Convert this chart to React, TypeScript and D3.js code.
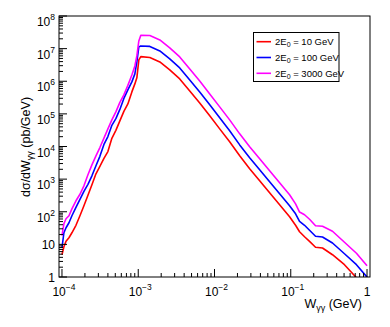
import React from "react";
import * as d3 from "d3";

// W_gamma-gamma grid (GeV)
const W = [
  1.0e-4, 1.06e-4, 1.13e-4, 1.235e-4, 1.35e-4, 1.525e-4, 1.72e-4, 1.94e-4, 2.19e-4, 2.47e-4,
  2.79e-4, 3.14e-4, 3.55e-4, 4.0e-4, 4.51e-4, 5.09e-4, 5.74e-4, 6.48e-4, 7.31e-4, 8.25e-4,
  9.03e-4, 9.59e-4, 1.018e-3, 1.081e-3, 1.42e-3, 1.92e-3, 2.59e-3, 3.5e-3, 4.74e-3, 6.4e-3,
  8.66e-3, 1.17e-2, 1.58e-2, 2.14e-2, 2.89e-2, 3.91e-2, 5.28e-2, 7.14e-2, 9.65e-2, 0.1156,
  0.1304, 0.1516, 0.1762, 0.2112, 0.2608, 0.3525, 0.506, 0.7265, 1.0,
];

// dσ/dW (pb/GeV) for 2E0 = 10 GeV
const sigma10 = [
  4.82, 8.47, 12.5, 16.0, 22.7, 38.5, 75.3, 152, 320, 670,
  1455, 2470, 4340, 7010, 1.78e4, 3.13e4, 6.11e4, 1.19e5, 2.02e5, 4.72e5,
  8.3e5, 1.27e6, 4.5e6, 5.68e6, 5.37e6, 3.91e6, 2.22e6, 1.18e6, 5.06e5, 2.17e5,
  8.69e4, 3.47e4, 1.39e4, 5175, 2070, 889, 381, 164, 70.2, 38.5,
  24.4, 17.1, 12.3, 8.17, 7.73, 4.82, 2.38, 0.95, 0.41,
];

// 2E0 = 100 GeV
const sigma100 = [
  7.89, 22.7, 32.3, 46.0, 75.3, 137, 241, 424, 694, 1265,
  2560, 5000, 1.16e4, 2.02e4, 4.45e4, 7.13e4, 1.37e5, 2.98e5, 5.43e5, 9.55e5,
  1.68e6, 3.91e6, 1.13e7, 1.21e7, 1.17e7, 8.49e6, 4.83e6, 2.56e6, 1.1e6, 4.72e5,
  1.89e5, 7.55e4, 3.02e4, 1.12e4, 4500, 1930, 828, 355, 152, 86.7,
  50.4, 38.5, 27.1, 17.8, 16.8, 11.0, 5.17, 2.38, 0.99,
];

// 2E0 = 3000 GeV
const sigma3000 = [
  18.4, 42.9, 61.0, 75.3, 123, 217, 343, 624, 1355, 2740,
  5175, 9290, 1.8e4, 3.47e4, 6.55e4, 1.15e5, 2.25e5, 3.82e5, 7.46e5, 1.56e6,
  2.95e6, 5.97e6, 1.72e7, 2.57e7, 2.53e7, 1.85e7, 1.05e7, 5.56e6, 2.39e6, 1.02e6,
  4.09e5, 1.64e5, 6.55e4, 2.44e4, 9770, 4190, 1800, 771, 331, 175,
  97.7, 80.9, 58.9, 37.2, 35.9, 25.3, 11.6, 5.35, 2.22,
];

const seriesNames = ["10", "100", "3000"];
const seriesColors = ["#ff0000", "#0000ff", "#ff00ff"];
const seriesValues = [sigma10, sigma100, sigma3000];

const xMajor = [1e-4, 1e-3, 1e-2, 1e-1, 1];
const xMajorExp = ["-4", "-3", "-2", "-1", ""];
const yMajor = [1, 10, 1e2, 1e3, 1e4, 1e5, 1e6, 1e7, 1e8];
const yMajorExp = ["", "", "2", "3", "4", "5", "6", "7", "8"];

const FONT = "'Liberation Sans', Arial, Helvetica, sans-serif";

export default function App() {
  const L = 59, R = 370, T = 16, B = 277;
  const x = d3.scaleLog().domain([9.14e-5, 1.094]).range([L, R]);
  const y = d3.scaleLog().domain([1, 1e8]).range([B, T]);

  const xMinor = x.ticks().filter((v) => !xMajor.some((m) => Math.abs(m - v) / m < 1e-6));
  const yMinor = y.ticks().filter((v) => !yMajor.some((m) => Math.abs(m - v) / m < 1e-6));

  const line = d3
    .line<number>()
    .x((_, i) => x(W[i]))
    .y((d) => y(Math.max(d, 1e-3)));

  return (
    <svg
      width={390}
      height={327}
      style={{ position: "fixed", left: 0, top: 0, background: "#fff" }}
      fontFamily={FONT}
    >
      <defs>
        <clipPath id="frame">
          <rect x={L} y={T} width={R - L} height={B - T} />
        </clipPath>
      </defs>
      <rect x={0} y={0} width={390} height={327} fill="#fff" />

      {/* curves */}
      <g clipPath="url(#frame)">
        {seriesValues.map((vals, k) => (
          <path key={k} d={line(vals) || ""} fill="none" stroke={seriesColors[k]} strokeWidth={1.6} strokeLinejoin="round" />
        ))}
      </g>

      {/* frame */}
      <rect x={L} y={T} width={R - L} height={B - T} fill="none" stroke="#000" strokeWidth={1} />

      {/* x ticks */}
      {xMajor.map((v, i) => (
        <line key={"xM" + i} x1={x(v)} x2={x(v)} y1={B} y2={B - 8} stroke="#000" strokeWidth={1} />
      ))}
      {xMinor.map((v, i) => (
        <line key={"xm" + i} x1={x(v)} x2={x(v)} y1={B} y2={B - 4} stroke="#000" strokeWidth={1} />
      ))}
      {/* y ticks */}
      {yMajor.map((v, i) => (
        <line key={"yM" + i} x1={L} x2={L + 8} y1={y(v)} y2={y(v)} stroke="#000" strokeWidth={1} />
      ))}
      {yMinor.map((v, i) => (
        <line key={"ym" + i} x1={L} x2={L + 4} y1={y(v)} y2={y(v)} stroke="#000" strokeWidth={1} />
      ))}

      {/* x tick labels */}
      {xMajor.map((v, i) => (
        <text key={"xl" + i} x={x(v) + (xMajorExp[i] ? 2 : 0)} y={296} fontSize={12} textAnchor="middle" fill="#000">
          {xMajorExp[i] ? "10" : "1"}
          {xMajorExp[i] ? (
            <tspan dy={-6} fontSize={8.5}>
              {"\u2212" + xMajorExp[i].slice(1)}
            </tspan>
          ) : null}
        </text>
      ))}

      {/* y tick labels */}
      {yMajor.map((v, i) => (
        <text
          key={"yl" + i}
          x={55}
          y={y(v) + (yMajorExp[i] ? 10 : 4.5)}
          fontSize={12}
          textAnchor="end"
          fill="#000"
        >
          {v === 1 ? "1" : "10"}
          {yMajorExp[i] ? (
            <tspan dy={-6} fontSize={8.5}>
              {yMajorExp[i]}
            </tspan>
          ) : null}
        </text>
      ))}

      {/* axis titles */}
      <text x={362} y={308} fontSize={12.5} textAnchor="end" fill="#000">
        W<tspan dy={3} fontSize={9}>γγ</tspan>
        <tspan dy={-3}> (GeV)</tspan>
      </text>
      <text transform="translate(30,147) rotate(-90)" fontSize={12.5} textAnchor="middle" fill="#000">
        dσ/dW<tspan dy={3} fontSize={9}>γγ</tspan>
        <tspan dy={-3}> (pb/GeV)</tspan>
      </text>

      {/* legend */}
      <rect x={253.5} y={32.5} width={85.5} height={49} fill="#fff" stroke="#000" strokeWidth={1} />
      {seriesNames.map((n, k) => {
        const ly = 41.7 + k * 15.8;
        return (
          <g key={"lg" + k}>
            <line x1={256.5} x2={271} y1={ly} y2={ly} stroke={seriesColors[k]} strokeWidth={1.6} />
            <text x={275} y={ly + 3.5} fontSize={9.5} fill="#000">
              2E<tspan dy={2} fontSize={7}>0</tspan>
              <tspan dy={-2}>{" = " + n + " GeV"}</tspan>
            </text>
          </g>
        );
      })}
    </svg>
  );
}
